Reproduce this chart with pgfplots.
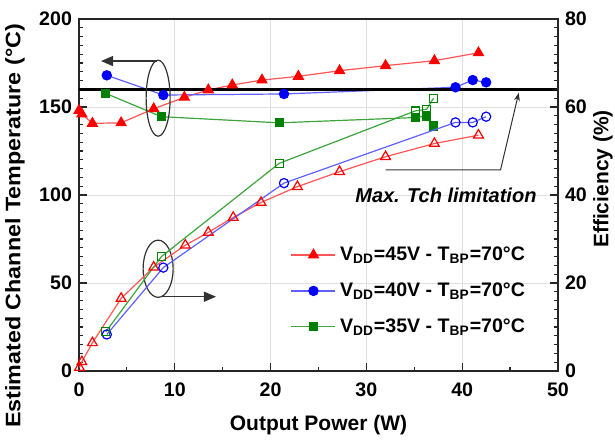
\documentclass[border=0pt]{standalone}
\usepackage{fontspec}
\setmainfont{Liberation Sans}
\usepackage{graphicx}
\usepackage{pgfplots}
\pgfplotsset{compat=1.18}
\usetikzlibrary{arrows.meta}
\definecolor{mkred}{RGB}{255,0,0}
\definecolor{lnred}{RGB}{255,85,85}
\definecolor{mkblue}{RGB}{0,0,255}
\definecolor{lnblue}{RGB}{95,95,255}
\definecolor{mkgreen}{RGB}{0,128,0}
\definecolor{lngreen}{RGB}{60,165,60}
\definecolor{annot}{RGB}{50,50,50}
\pgfplotsset{
  base/.style={
    scale only axis, width=239.5pt, height=176pt,
    xmin=0, xmax=50,
    /pgf/number format/assume math mode=true,
    tick label style={font=\fontsize{9.8}{11}\selectfont\bfseries},
    label style={font=\fontsize{10.5}{12}\selectfont\bfseries, inner sep=0pt},
    tick align=inside,
    major tick length=4pt, minor tick length=2.2pt,
    axis line style={black!85, line width=0.8pt},
    every tick/.style={black!85, line width=0.6pt},
  }
}
\begin{document}
\begin{tikzpicture}
\begin{axis}[base,
  ymin=0, ymax=200,
  xtick={0,10,...,50}, minor x tick num=1,
  ytick={0,50,...,200}, minor y tick num=9,
  xtick pos=bottom, ytick pos=left,
  xticklabel style={yshift=-2.5pt},
  grid=major, major grid style={black!12, line width=0.4pt},
  xlabel={Output Power (W)},
  xlabel style={at={([yshift=-27pt]axis description cs:0.5,0)}, anchor=center},
  ylabel={\scalebox{1.11}[1]{Estimated Channel Temperature (°C)}},
  ylabel style={at={([xshift=-32pt,yshift=-15.5pt]axis description cs:0,0.5)}, anchor=center},
  legend style={at={(rel axis cs:0.429,0.377)}, anchor=north west, draw=none, fill=none,
    font=\fontsize{9.8}{11}\selectfont\bfseries, row sep=5.6pt,
    legend cell align=left},
  legend image code/.code={
    \draw[#1, mark repeat=2, mark phase=2] plot coordinates {(0pt,0pt) (11pt,0pt) (22pt,0pt)};},
]
\coordinate (BL) at (rel axis cs:0,0);
\coordinate (TR) at (rel axis cs:1,1);
\addplot[lnred, line width=0.6pt, mark=triangle*, mark size=2.8pt, mark options={mkred, fill=mkred, solid}] coordinates {
(0,148) (0.3,146) (1.4,140.7) (4.4,141) (7.8,149) (11.0,155.5) (13.5,159.7) (16.0,162.5)
(19.1,165.3) (22.9,167.4) (27.2,170.6) (32.0,173.5) (37.1,176.3) (41.7,180.8)};
\addlegendentry{V\textsubscript{DD}=45V - T\textsubscript{BP}=70°C}
\addplot[lnblue, line width=0.6pt, mark=*, mark size=2.3pt, mark options={mkblue, fill=mkblue, solid}] coordinates {
(2.9,168) (8.8,156.8) (21.4,157.4) (39.3,161.2) (41.1,165.3) (42.5,164)};
\addlegendentry{V\textsubscript{DD}=40V - T\textsubscript{BP}=70°C}
\addplot[lngreen, line width=0.6pt, mark=square*, mark size=2.0pt, mark options={mkgreen, fill=mkgreen, solid}] coordinates {
(2.8,157.7) (8.6,144.5) (20.9,141) (35.1,144) (36.3,144.9) (37.0,139.2)};
\addlegendentry{V\textsubscript{DD}=35V - T\textsubscript{BP}=70°C}
\addplot[black, line width=1.6pt, forget plot] coordinates {(0,160) (50,160)};
% annotations
\draw[annot, line width=0.6pt] (axis cs:8.26,155) ellipse [x radius=6pt, y radius=19pt];
\draw[annot, line width=0.6pt, -{Triangle[length=6pt,width=5pt]}] (axis cs:8.1,176.1) -- (axis cs:2.3,176.1);
\draw[annot, line width=0.6pt] (axis cs:8.26,58.1) ellipse [x radius=7.5pt, y radius=14.3pt];
\draw[annot, line width=0.6pt, -{Triangle[length=6pt,width=5pt]}] (axis cs:8.6,42.2) -- (axis cs:14.3,42.2);
\draw[annot, line width=0.5pt, -{Stealth[length=4pt,width=3pt]}] (axis cs:32.0,114.2) -- (axis cs:44.0,114.2) -- (axis cs:45.9,158);
\node[font=\fontsize{10}{12}\selectfont\bfseries\itshape] at (axis cs:38.3,100) {Max. Tch limitation};
\end{axis}
\begin{axis}[base,
  ymin=0, ymax=80,
  axis x line=none, axis y line*=right,
  ytick={0,20,...,80}, minor y tick num=9,
  ylabel={Efficiency (\%)},
  ylabel style={at={([xshift=22.5pt,yshift=8pt]axis description cs:1,0.5)}, anchor=center},
]
\addplot[lnred, line width=0.6pt, mark=triangle, mark size=2.8pt, mark options={mkred, fill=white, solid}] coordinates {
(0.05,0.8) (0.3,2.1) (1.4,6.4) (4.4,16.5) (7.8,23.6) (11.1,28.6) (13.5,31.5) (16.1,34.9)
(19.0,38.3) (22.8,41.9) (27.2,45.3) (32.0,48.7) (37.1,51.7) (41.7,53.6)};
\addplot[lnblue, line width=0.6pt, mark=o, mark size=2.3pt, mark options={mkblue, fill=white, solid}] coordinates {
(2.9,8.3) (8.8,23.5) (21.4,42.7) (39.3,56.5) (41.1,56.5) (42.5,57.8)};
\addplot[lngreen, line width=0.6pt, mark=square, mark size=2.0pt, mark options={mkgreen, fill=white, solid}] coordinates {
(2.8,8.9) (8.6,26.0) (20.9,47.2) (35.1,59.1) (36.3,59.5) (37.0,62.0)};
\end{axis}
\path ([xshift=-39.5pt,yshift=-35pt]BL) ([xshift=28.5pt,yshift=9.5pt]TR);
\end{tikzpicture}
\end{document}
